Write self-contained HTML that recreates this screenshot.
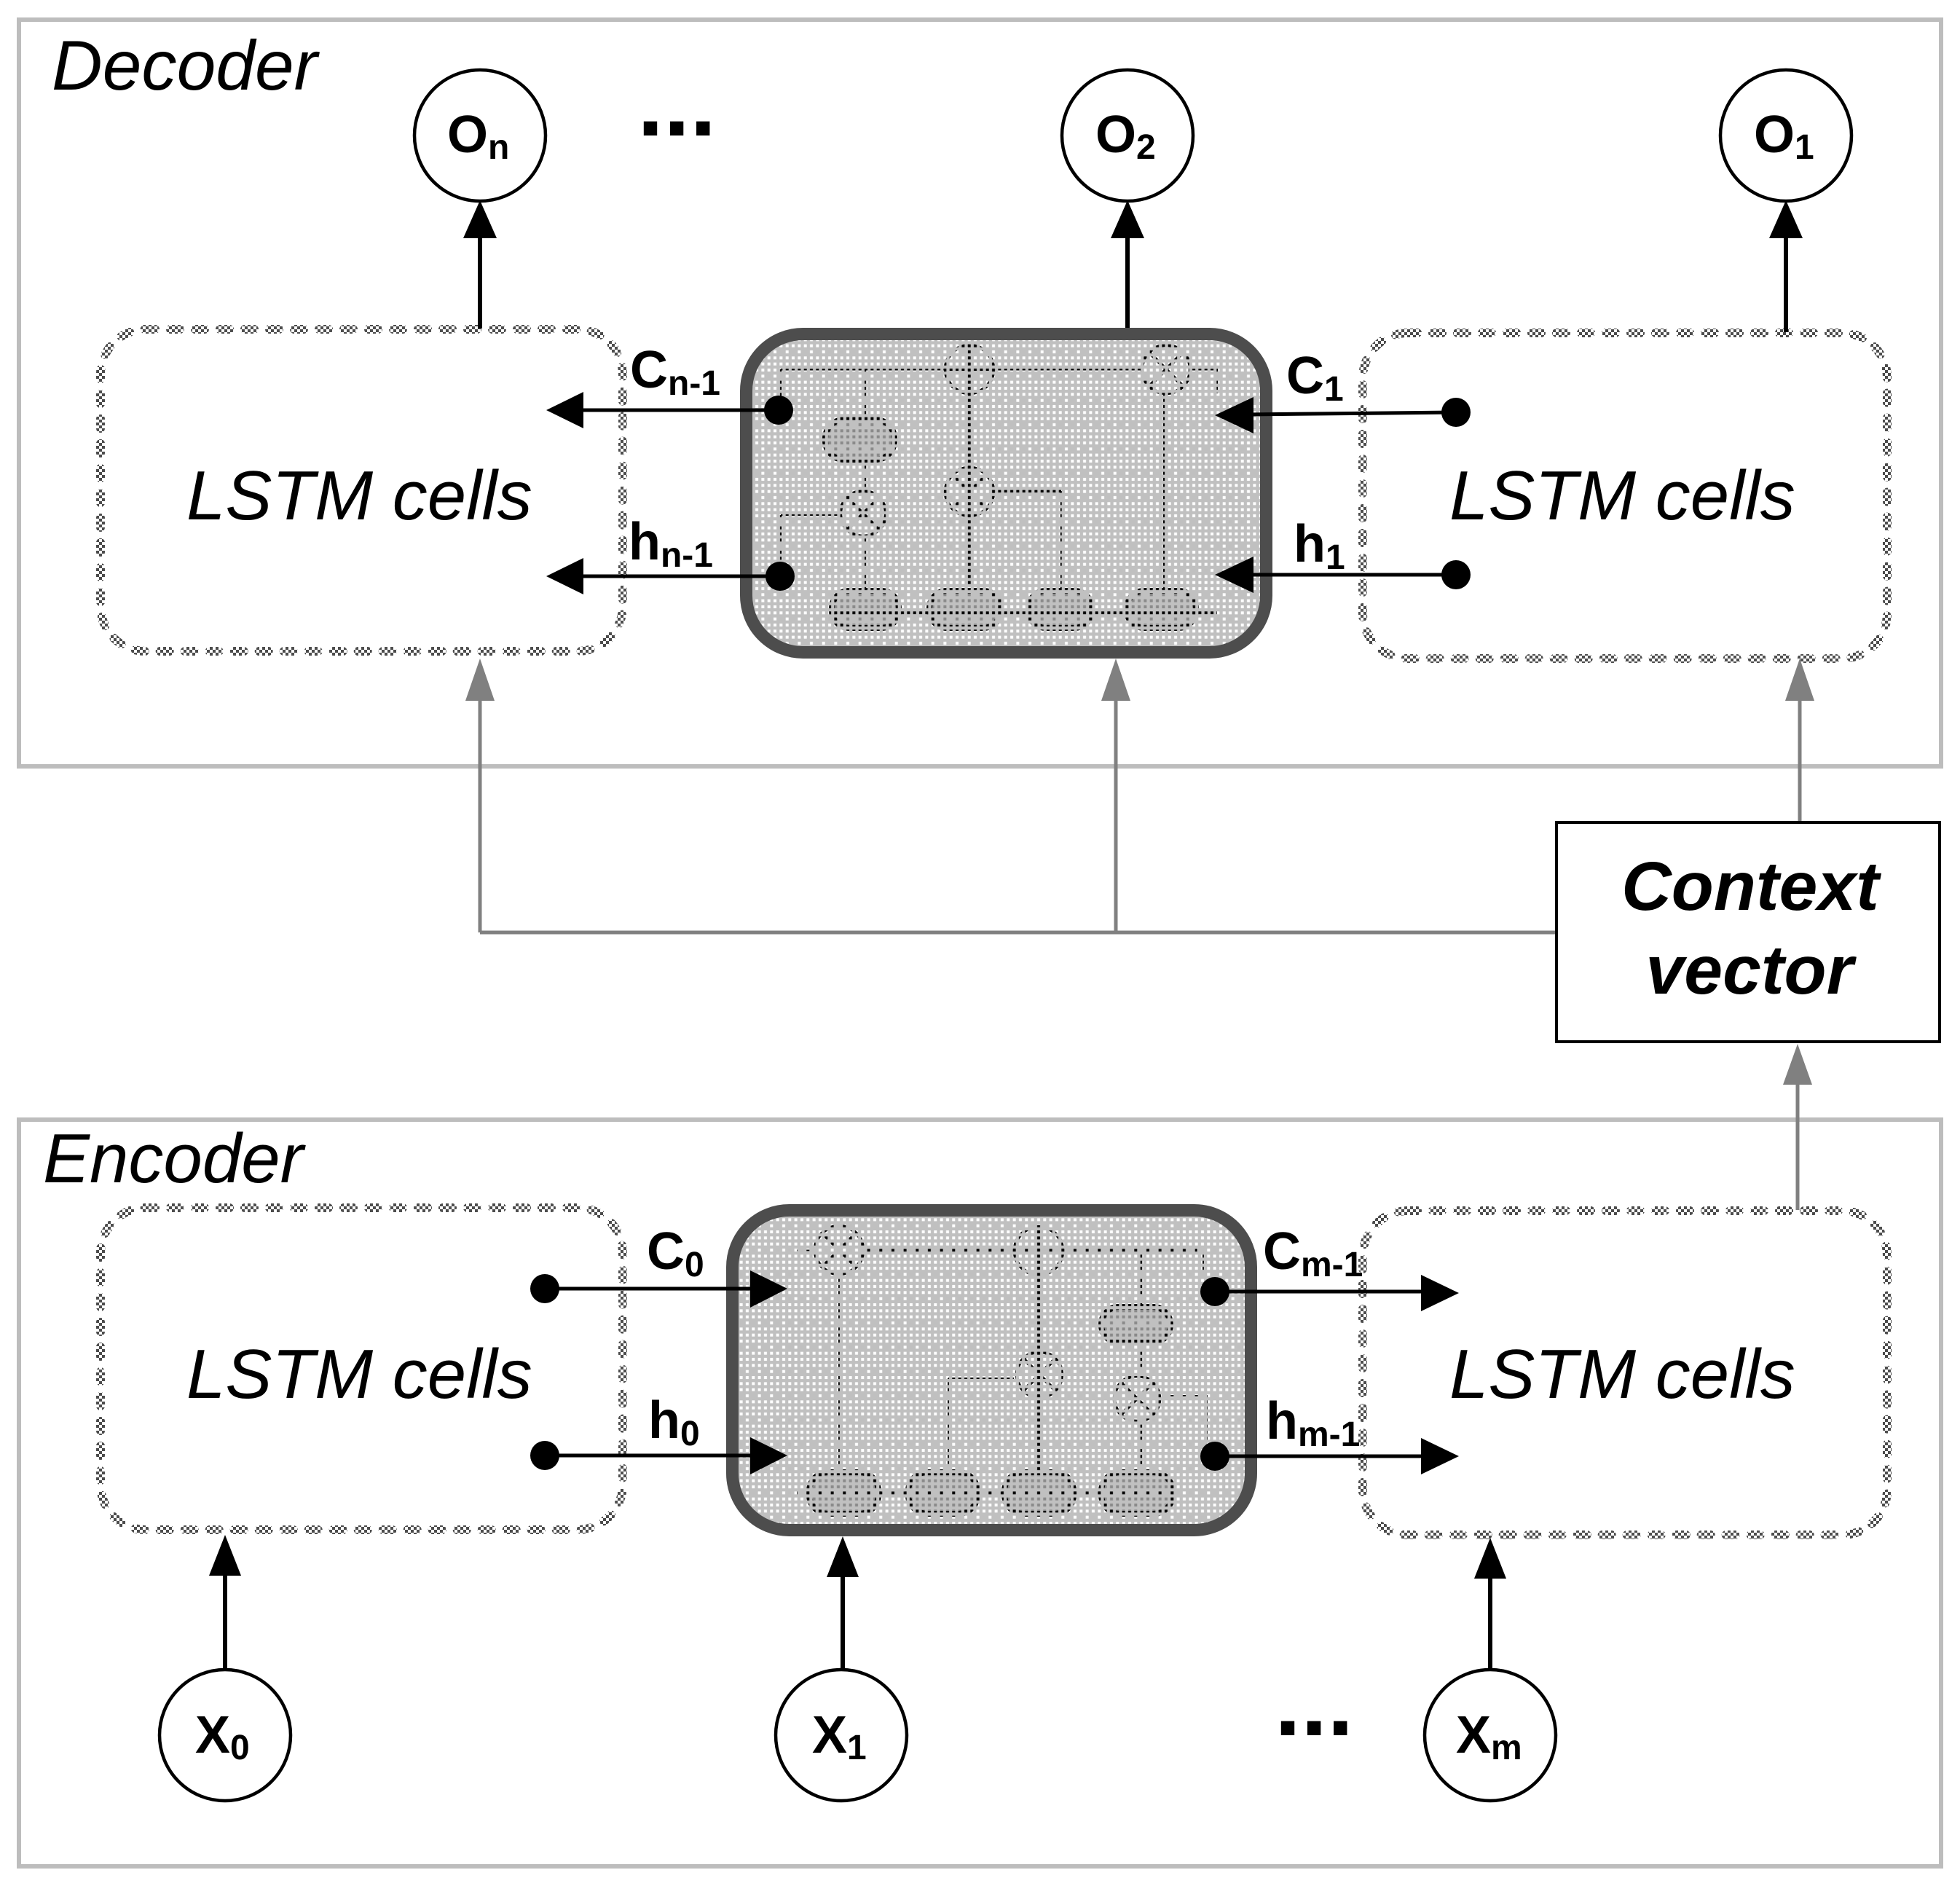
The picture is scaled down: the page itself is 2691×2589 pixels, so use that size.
<!DOCTYPE html>
<html><head><meta charset="utf-8"><style>
html,body{margin:0;padding:0;background:#fff}
svg{display:block}
text{font-family:"Liberation Sans",sans-serif;fill:#000}
.t{font-style:italic}
.b{font-weight:bold;font-size:72px}
.s{font-size:48px}
</style></head><body>
<svg width="2691" height="2589" viewBox="0 0 2691 2589" xmlns="http://www.w3.org/2000/svg">
<defs>
<pattern id="hD" patternUnits="userSpaceOnUse" x="1076.53" y="478.83" width="16.667" height="33.333">
<rect width="16.667" height="33.333" fill="#fff"/>
<g fill="#000">
<rect x="2.17" y="2.17" width="4" height="4"/>
<rect x="2.17" y="10.5" width="4" height="4"/><rect x="10.5" y="10.5" width="4" height="4"/>
<rect x="2.17" y="18.83" width="4" height="4"/><rect x="10.5" y="18.83" width="4" height="4"/>
<rect x="2.17" y="27.17" width="4" height="4"/><rect x="10.5" y="27.17" width="4" height="4"/>
</g>
</pattern>
<pattern id="hE" patternUnits="userSpaceOnUse" x="1055.13" y="1678.53" width="16.667" height="33.333">
<rect width="16.667" height="33.333" fill="#fff"/>
<g fill="#000">
<rect x="2.17" y="2.17" width="4" height="4"/>
<rect x="2.17" y="10.5" width="4" height="4"/><rect x="10.5" y="10.5" width="4" height="4"/>
<rect x="2.17" y="18.83" width="4" height="4"/><rect x="10.5" y="18.83" width="4" height="4"/>
<rect x="2.17" y="27.17" width="4" height="4"/><rect x="10.5" y="27.17" width="4" height="4"/>
</g>
</pattern>
<mask id="mD" maskUnits="userSpaceOnUse" x="1000" y="440" width="770" height="480"><rect x="1000" y="440" width="770" height="480" fill="url(#hD)"/></mask>
<mask id="mE" maskUnits="userSpaceOnUse" x="980" y="1640" width="770" height="480"><rect x="980" y="1640" width="770" height="480" fill="url(#hE)"/></mask>
<pattern id="ck" patternUnits="userSpaceOnUse" width="8" height="8">
<rect width="8" height="8" fill="#fff"/>
<rect width="4" height="4" fill="#4d4d4d"/><rect x="4" y="4" width="4" height="4" fill="#4d4d4d"/>
</pattern>
</defs>
<rect width="2691" height="2589" fill="#fff"/>
<!-- outer frames -->
<rect x="26" y="27" width="2639" height="1025" fill="none" stroke="#bdbdbd" stroke-width="6"/>
<rect x="26" y="1537" width="2639" height="1025" fill="none" stroke="#bdbdbd" stroke-width="6"/>
<!-- LSTM dashed boxes -->
<g fill="none" stroke="url(#ck)" stroke-width="12" stroke-dasharray="13 21" stroke-linecap="round">
<rect x="138" y="452" width="717" height="442" rx="62"/>
<rect x="1871" y="457" width="720" height="447" rx="62"/>
<rect x="138" y="1658" width="717" height="442" rx="62"/>
<rect x="1871" y="1662" width="720" height="445" rx="62"/>
</g>
<!-- decoder cell -->
<rect x="1024.5" y="458.5" width="714" height="437" rx="78" fill="#fff"/>
<g fill="#8a8a8a" stroke="#000" stroke-width="8">
<rect x="1133" y="576" width="95" height="55" rx="26"/>
<rect x="1142" y="811" width="92" height="51" rx="24"/>
<rect x="1276" y="811" width="98" height="51" rx="24"/>
<rect x="1412" y="811" width="87" height="51" rx="24"/>
<rect x="1547" y="811" width="95" height="51" rx="24"/>
</g>
<g fill="none" stroke="#000" stroke-width="4.5">
<circle cx="1331" cy="507" r="33"/><circle cx="1331" cy="675" r="33"/><circle cx="1601" cy="507" r="33"/><circle cx="1185" cy="705" r="31"/>
<path d="M1298 507H1364M1331 474V805M1308 652L1354 698M1308 698L1354 652M1578 484L1624 530M1578 530L1624 484M1163 683L1207 727M1163 727L1207 683"/>
<path d="M1187 507V572M1187 635V674M1187 737V807M1365 674H1457M1145 841H1671"/>
</g>
<g fill="none" stroke="#000" stroke-width="2.5">
<path d="M1072 507.3H1568M1634 507.3H1671V540M1072 507V545M1072 707H1153M1072 707V772M1598 542V807M1457 674V807"/>
</g>
<rect x="1024.5" y="458.5" width="714" height="437" rx="78" fill="#c0c0c0" mask="url(#mD)"/>
<rect x="1024.5" y="458.5" width="714" height="437" rx="78" fill="none" stroke="#4d4d4d" stroke-width="17"/>
<!-- encoder cell -->
<rect x="1005.5" y="1661.5" width="712" height="439" rx="78" fill="#fff"/>
<g fill="#8a8a8a" stroke="#000" stroke-width="8">
<rect x="1512" y="1794" width="95" height="49" rx="24"/>
<rect x="1111" y="2021" width="95" height="57" rx="26"/>
<rect x="1247" y="2021" width="95" height="57" rx="26"/>
<rect x="1379" y="2021" width="95" height="57" rx="26"/>
<rect x="1512" y="2021" width="98" height="57" rx="26"/>
</g>
<g fill="none" stroke="#000" stroke-width="4.5">
<circle cx="1152" cy="1716" r="33"/><circle cx="1426" cy="1717" r="33"/><circle cx="1427" cy="1887" r="31"/><circle cx="1561" cy="1920" r="31"/>
<path d="M1130 1694L1174 1738M1130 1738L1174 1694M1405 1865L1449 1909M1405 1909L1449 1865M1539 1898L1583 1942M1539 1942L1583 1898"/>
<path d="M1426 1682V2017M1393 1717H1459M1186 1716.5H1644M1566 1717V1790M1566 1847V1890M1566 1950V2017M1094 2049.5H1617"/>
</g>
<g fill="none" stroke="#000" stroke-width="2">
<path d="M1094 1716.5H1118M1152 1750V2017M1652 1717V1745M1302 1892H1392M1302 1892V2012M1595 1916H1657V1980"/>
</g>
<rect x="1005.5" y="1661.5" width="712" height="439" rx="78" fill="#c0c0c0" mask="url(#mE)"/>
<rect x="1005.5" y="1661.5" width="712" height="439" rx="78" fill="none" stroke="#4d4d4d" stroke-width="17"/>
<!-- gray connectors -->
<g stroke="#808080" stroke-width="5" fill="none">
<path d="M659 1280V955M1532 1280V955M2471 1129V955M659 1280H2137M2468 1661V1480"/>
</g>
<g fill="#808080">
<path d="M659 904L639 962H679ZM1532 904L1512 962H1552ZM2471 904L2451 962H2491ZM2468 1433L2448 1489H2488Z"/>
</g>
<!-- black connectors -->
<g stroke="#000" stroke-width="6" fill="none">
<path d="M659 451V315M1548 450V315M2452 456V315M309 2291V2150M1157 2291V2150M2046 2291V2150"/>
</g>
<g stroke="#000" stroke-width="5" fill="none">
<path d="M1069 563H790M1071 791H790M1999 566L1710 569M1999 789H1710"/>
<path d="M748 1769H1040M748 1998H1040M1668 1773H1960M1668 1999H1960"/>
</g>
<g fill="#000">
<path d="M659 275L636 327H682ZM1548 275L1525 327H1571ZM2452 275L2429 327H2475Z"/>
<path d="M750 563L801 538V588ZM750 791L801 766V816ZM1668 570L1721 545V595ZM1668 789L1721 764V814Z"/>
<path d="M1081 1769L1030 1744V1795ZM1081 1998L1030 1973V2024ZM2003 1775L1951 1750V1800ZM2003 1999L1951 1974V2024Z"/>
<path d="M309 2107L287 2163H331ZM1157 2109L1135 2165H1179ZM2046 2111L2024 2167H2068Z"/>
<circle cx="1069" cy="563" r="20"/><circle cx="1071" cy="791" r="20"/><circle cx="1999" cy="566" r="20"/><circle cx="1999" cy="789" r="20"/>
<circle cx="748" cy="1769" r="20"/><circle cx="748" cy="1998" r="20"/><circle cx="1668" cy="1773" r="20"/><circle cx="1668" cy="1999" r="20"/>
</g>
<!-- circles -->
<g fill="#fff" stroke="#000" stroke-width="4.5">
<circle cx="659" cy="186" r="90"/><circle cx="1548" cy="186" r="90"/><circle cx="2452" cy="186" r="90"/>
<circle cx="309" cy="2382" r="90"/><circle cx="1155" cy="2382" r="90"/><circle cx="2046" cy="2382" r="90"/>
</g>
<!-- context box -->
<rect x="2137" y="1129" width="526" height="301" fill="#fff" stroke="#000" stroke-width="4"/>
<text x="2403" y="1249" text-anchor="middle" font-size="95" font-weight="bold" font-style="italic">Context</text>
<text x="2402" y="1364" text-anchor="middle" font-size="95" font-weight="bold" font-style="italic">vector</text>
<!-- italic labels -->
<text class="t" x="71" y="123" font-size="96.5">Decoder</text>
<text class="t" x="59" y="1623" font-size="96">Encoder</text>
<text class="t" x="256" y="713" font-size="96">LSTM cells</text>
<text class="t" x="1990" y="713" font-size="96">LSTM cells</text>
<text class="t" x="256" y="1919" font-size="96">LSTM cells</text>
<text class="t" x="1990" y="1919" font-size="96">LSTM cells</text>
<!-- bold labels -->
<text class="b" x="614" y="209">O<tspan class="s" dy="9">n</tspan></text>
<text class="b" x="1504" y="209">O<tspan class="s" dy="9">2</tspan></text>
<text class="b" x="2408" y="209">O<tspan class="s" dy="9">1</tspan></text>
<text class="b" x="268" y="2406">X<tspan class="s" dy="9">0</tspan></text>
<text class="b" x="1115" y="2406">X<tspan class="s" dy="9">1</tspan></text>
<text class="b" x="1999" y="2406">X<tspan class="s" dy="9">m</tspan></text>
<text class="b" x="865" y="532">C<tspan class="s" dy="10">n-1</tspan></text>
<text class="b" x="1766" y="540">C<tspan class="s" dy="10">1</tspan></text>
<text class="b" x="863" y="768">h<tspan class="s" dy="10">n-1</tspan></text>
<text class="b" x="1776" y="771">h<tspan class="s" dy="10">1</tspan></text>
<text class="b" x="888" y="1742">C<tspan class="s" dy="10">0</tspan></text>
<text class="b" x="890" y="1974">h<tspan class="s" dy="10">0</tspan></text>
<text class="b" x="1734" y="1742">C<tspan class="s" dy="10">m-1</tspan></text>
<text class="b" x="1738" y="1975">h<tspan class="s" dy="10">m-1</tspan></text>
<text x="875" y="186" font-size="130" font-weight="bold">...</text>
<text x="1750" y="2382" font-size="130" font-weight="bold">...</text>
</svg>
</body></html>
